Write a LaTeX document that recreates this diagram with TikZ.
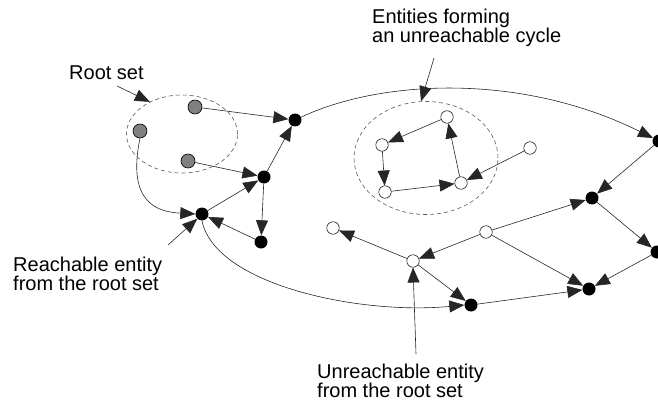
\documentclass[tikz,border=0pt]{standalone}
\usepackage{fontspec}
\setmainfont{Liberation Sans}
\usetikzlibrary{arrows.meta,shapes.geometric}
\begin{document}
\begin{tikzpicture}[x=1pt,y=-1pt,
  blk/.style={circle,fill=black,inner sep=0pt,minimum size=13pt},
  gry/.style={circle,fill=black!50,draw=black,line width=0.6pt,inner sep=0pt,minimum size=14pt},
  wht/.style={circle,fill=white,draw=black,line width=0.5pt,inner sep=0pt,minimum size=12.5pt},
  arr/.style={draw=black!85,line width=0.6pt,-{Triangle[length=15pt,width=12pt]}},
  grp/.style={draw=black!65,line width=0.6pt,dash pattern=on 4pt off 3pt,ellipse,inner sep=0pt},
  lbl/.style={inner sep=0pt,anchor=base west,align=left}
]
\useasboundingbox (0,0) rectangle (658,401);
% groups
\node[grp,minimum width=111pt,minimum height=78pt] (rootset) at (182,134) {};
\node[grp,minimum width=144pt,minimum height=113pt] (cycset) at (426,158) {};
% root nodes
\node[gry] (g1) at (195,107) {};
\node[gry] (g2) at (140,131) {};
\node[gry] (g3) at (188,161) {};
% reachable
\node[blk] (b1) at (295,120) {};
\node[blk] (b2) at (264,177) {};
\node[blk] (b3) at (202,214) {};
\node[blk] (b4) at (261,242) {};
\node[blk] (b5) at (659,141) {};
\node[blk] (b6) at (592,198) {};
\node[blk] (b7) at (657,252) {};
\node[blk] (b8) at (589,289) {};
\node[blk] (b9) at (471,305) {};
% unreachable
\node[wht] (w1) at (447,117) {};
\node[wht] (w2) at (382,145) {};
\node[wht] (w3) at (385,192) {};
\node[wht] (w4) at (461,183) {};
\node[wht] (w5) at (530,148) {};
\node[wht] (w6) at (333,228) {};
\node[wht] (w7) at (413,261) {};
\node[wht] (w8) at (486,232) {};
% edges
\draw[arr] (g1) -- (b1);
\draw[arr] (g3) -- (b2);
\draw[arr] (g2.south) .. controls (126,205) and (160,212) .. (b3.west);
\draw[arr] (b3) -- (b2);
\draw[arr] (b2) -- (b1);
\draw[arr] (b2) -- (b4);
\draw[arr] (b4) -- (b3);
\draw[arr] (b1) .. controls (380,80) and (520,72) .. (b5);
\draw[arr] (b3.south) .. controls (215,285) and (360,315) .. (b9.west);
\draw[arr] (b5) -- (b6);
\draw[arr] (b6) -- (b7);
\draw[arr] (b7) -- (b8);
\draw[arr] (b9) -- (b8);
\draw[arr] (w8) -- (b6);
\draw[arr] (w8) -- (w7);
\draw[arr] (w8) -- (b8);
\draw[arr] (w7) -- (w6);
\draw[arr] (w7) -- (b9);
\draw[arr] (w1) -- (w2);
\draw[arr] (w2) -- (w3);
\draw[arr] (w3) -- (w4);
\draw[arr] (w4) -- (w1);
\draw[arr] (w5) -- (w4);
% labels
\node[lbl,font=\fontsize{20}{19}\selectfont] (lroot) at (69,80) {Root set};
\node[lbl,font=\fontsize{20}{16.5}\selectfont] (lcyc) at (372,43) {Entities forming\\an unreachable cycle};
\node[lbl,font=\fontsize{20}{19}\selectfont] (lreach) at (13,290) {Reachable entity\\from the root set};
\node[lbl,font=\fontsize{20}{19}\selectfont] (lunr) at (317,397) {Unreachable entity\\from the root set};
\coordinate (croot) at (117,86);
\coordinate (ccyc) at (434,58);
\coordinate (creach) at (168,245);
\coordinate (cunr) at (416,354);
\draw[arr] (croot) -- (rootset.135);
\draw[arr] (ccyc) -- (cycset.95);
\draw[arr] (creach) -- (b3.225);
\draw[arr] (cunr) -- (w7.south);
\end{tikzpicture}
\end{document}
